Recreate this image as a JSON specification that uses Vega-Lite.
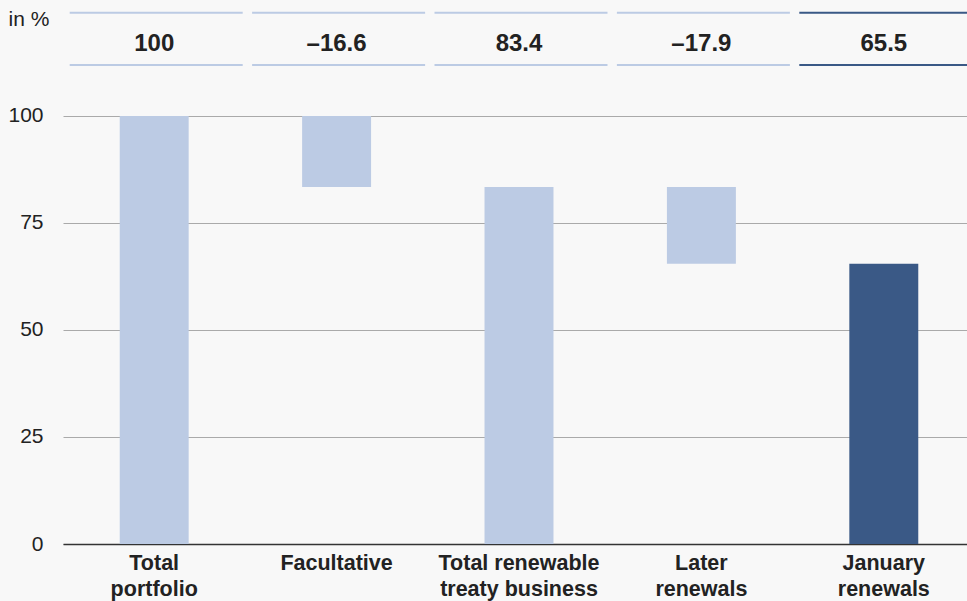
{
  "$schema": "https://vega.github.io/schema/vega-lite/v6.json",
  "width": 912,
  "height": 544,
  "autosize": {"type": "none"},
  "padding": {"left": 63, "top": 0, "right": 0, "bottom": 57},
  "background": "#f8f8f8",
  "config": {
    "font": "Liberation Sans",
    "view": {"stroke": null},
    "axis": {"labelColor": "#222222", "labelFontSize": 21, "ticks": false}
  },
  "data": {
    "values": [
      {"category": "Total portfolio", "start": 0, "end": 100, "label": "100", "kind": "step"},
      {"category": "Facultative", "start": 100, "end": 83.4, "label": "–16.6", "kind": "step"},
      {"category": "Total renewable treaty business", "start": 0, "end": 83.4, "label": "83.4", "kind": "step"},
      {"category": "Later renewals", "start": 83.4, "end": 65.5, "label": "–17.9", "kind": "step"},
      {"category": "January renewals", "start": 0, "end": 65.5, "label": "65.5", "kind": "result"}
    ]
  },
  "encoding": {
    "x": {
      "field": "category",
      "type": "nominal",
      "sort": null,
      "scale": {"paddingInner": 0.622, "paddingOuter": 0.311},
      "axis": {
        "title": null,
        "labelAngle": 0,
        "labelFontSize": 21.5,
        "labelFontWeight": "bold",
        "labelBaseline": "top",
        "labelPadding": 8,
        "labelLineHeight": 26,
        "domainColor": "#333333",
        "domainWidth": 1.5,
        "labelExpr": "datum.value == 'Total portfolio' ? ['Total', 'portfolio'] : datum.value == 'Total renewable treaty business' ? ['Total renewable', 'treaty business'] : datum.value == 'Later renewals' ? ['Later', 'renewals'] : datum.value == 'January renewals' ? ['January', 'renewals'] : datum.value"
      }
    },
    "color": {
      "field": "kind",
      "type": "nominal",
      "scale": {"domain": ["step", "result"], "range": ["#bccbe4", "#3a5986"]},
      "legend": null
    }
  },
  "layer": [
    {
      "mark": {"type": "bar"},
      "encoding": {
        "y": {
          "field": "start",
          "type": "quantitative",
          "scale": {"domain": [0, 127.1], "nice": false},
          "axis": {
            "values": [0, 25, 50, 75, 100],
            "domain": false,
            "grid": true,
            "gridColor": "#aaaaaa",
            "gridWidth": 1,
            "labelPadding": 20,
            "title": "in %",
            "titleAngle": 0,
            "titleAlign": "left",
            "titleBaseline": "middle",
            "titleFontSize": 21,
            "titleFontWeight": "normal",
            "titleColor": "#222222",
            "titleX": -55,
            "titleY": 19
          }
        },
        "y2": {"field": "end"}
      }
    },
    {
      "data": {
        "values": [
          {"category": "Total portfolio", "edge": 124.1, "kind": "step"},
          {"category": "Facultative", "edge": 124.1, "kind": "step"},
          {"category": "Total renewable treaty business", "edge": 124.1, "kind": "step"},
          {"category": "Later renewals", "edge": 124.1, "kind": "step"},
          {"category": "January renewals", "edge": 124.1, "kind": "result"},
          {"category": "Total portfolio", "edge": 111.9, "kind": "step"},
          {"category": "Facultative", "edge": 111.9, "kind": "step"},
          {"category": "Total renewable treaty business", "edge": 111.9, "kind": "step"},
          {"category": "Later renewals", "edge": 111.9, "kind": "step"},
          {"category": "January renewals", "edge": 111.9, "kind": "result"}
        ]
      },
      "mark": {"type": "tick", "size": 173, "thickness": 2, "opacity": 1, "xOffset": 2},
      "encoding": {
        "y": {"field": "edge", "type": "quantitative"},
        "color": {
          "field": "kind",
          "type": "nominal",
          "scale": {"domain": ["step", "result"], "range": ["#c6d4ea", "#4d6b98"]},
          "legend": null
        }
      }
    },
    {
      "mark": {"type": "text", "fontSize": 24, "fontWeight": "bold", "color": "#222222", "baseline": "middle"},
      "encoding": {
        "y": {"datum": 116.9, "type": "quantitative"},
        "text": {"field": "label"},
        "color": {"value": "#222222"}
      }
    }
  ]
}
